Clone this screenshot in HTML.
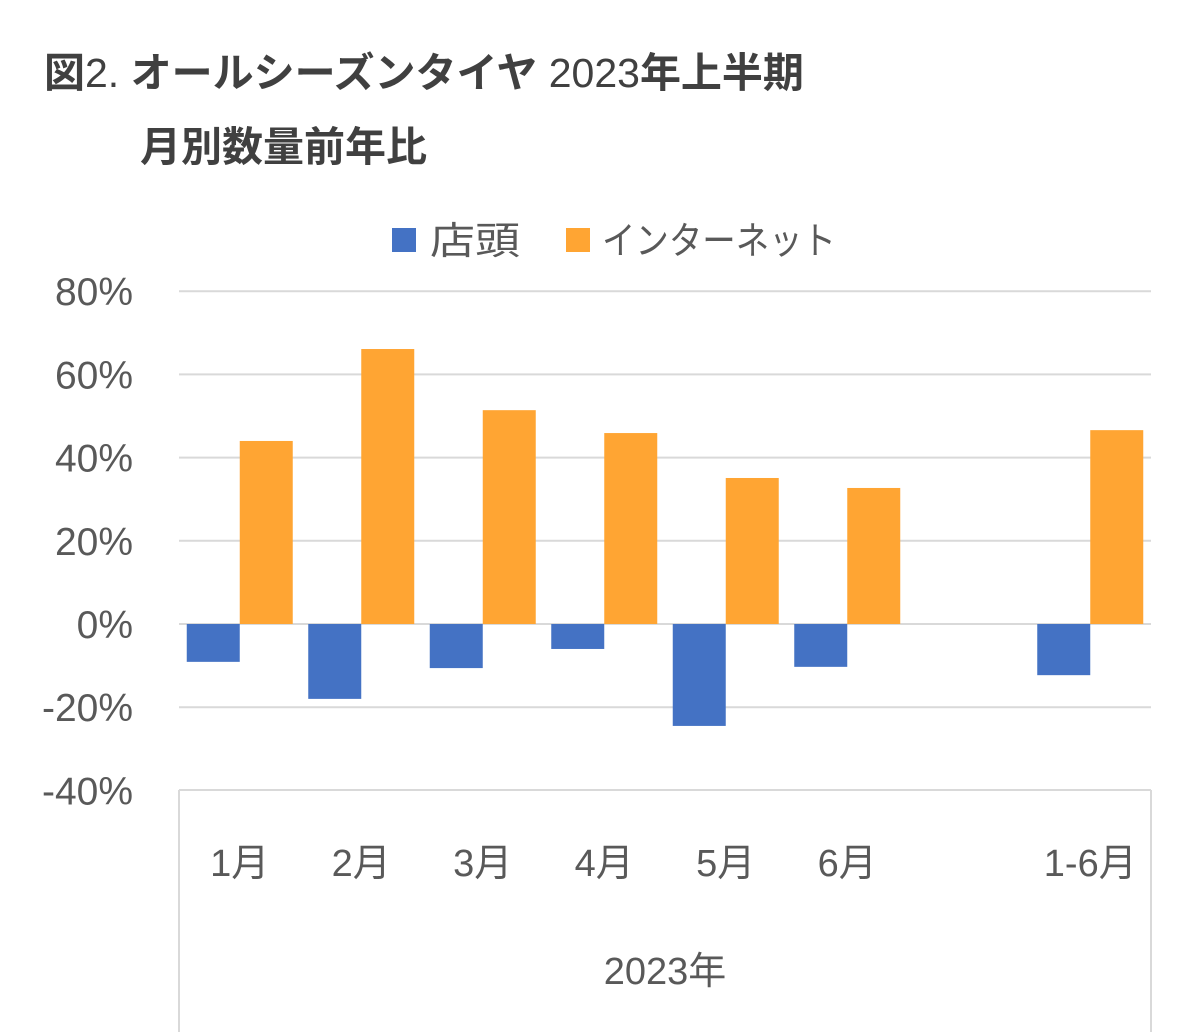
<!DOCTYPE html>
<html><head><meta charset="utf-8"><style>
body{margin:0;background:#fff;width:1201px;height:1032px;overflow:hidden;font-family:"Liberation Sans","Noto Sans CJK JP",sans-serif;}
.t{position:absolute;color:#404040;font-size:41px;font-weight:bold;white-space:nowrap}
.t span{font-weight:normal}
</style></head><body>
<div class="t" style="left:44px;top:39px">図<span>2.</span> オールシーズンタイヤ <span>2023</span>年上半期</div>
<div class="t" style="left:140px;top:113px">月別数量前年比</div>
<svg id="c" width="1201" height="1032" style="position:absolute;left:0;top:0"></svg>
<script>
const categories=["1月","2月","3月","4月","5月","6月","","1-6月"];
const storeValues=[-9.1,-18,-10.6,-6,-24.5,-10.3,null,-12.3];
const netValues=[44,66.1,51.4,45.9,35.1,32.7,null,46.6];
const ticks=[80,60,40,20,0,-20,-40];
const svg=document.getElementById('c');
const NS='http://www.w3.org/2000/svg';
const X0=179,X1=1151,cw=(X1-X0)/categories.length;
const y=v=>624-v*83.2/20;
function mk(t,a){const e=document.createElementNS(NS,t);for(const k in a)e.setAttribute(k,a[k]);svg.appendChild(e);return e;}
ticks.forEach(v=>{
 if(v>-40){const l=mk('line',{x1:X0,x2:X1,y1:y(v),y2:y(v),stroke:'#d9d9d9','stroke-width':2});
 
 }
 const t=mk('text',{x:133,y:y(v)+14,'text-anchor':'end','font-size':39,fill:'#595959','font-family':'Liberation Sans, sans-serif'});
 t.textContent=v+'%';
 
 
});
[[X0,790,X1,790],[X0,790,X0,1032],[X1,790,X1,1032]].forEach(p=>{const l=mk('line',{x1:p[0],y1:p[1],x2:p[2],y2:p[3],stroke:'#d9d9d9','stroke-width':2});
 
 });
const bw=53;
categories.forEach((c,i)=>{
 const cx=X0+cw*i+cw/2;
 if(storeValues[i]!=null){const v=storeValues[i];const r=mk('rect',{x:cx-bw,y:Math.min(y(0),y(v)),width:bw,height:Math.abs(y(v)-y(0)),fill:'#4472c4'});
  
  }
 if(netValues[i]!=null){const v=netValues[i];const r=mk('rect',{x:cx,y:Math.min(y(0),y(v)),width:bw,height:Math.abs(y(v)-y(0)),fill:'#ffa533'});
  
  }
 if(c){const t=mk('text',{x:cx,y:876,'text-anchor':'middle','font-size':38,fill:'#595959','font-family':'Liberation Sans, Noto Sans CJK JP, sans-serif'});
  t.textContent=c;
  
  }
});
const g=mk('text',{x:(X0+X1)/2,y:984,'text-anchor':'middle','font-size':38,fill:'#595959','font-family':'Liberation Sans, Noto Sans CJK JP, sans-serif'});
g.textContent='2023年';


[[392,'#4472c4',430,'店頭',90],[566,'#ffa533',602,'インターネット',234]].forEach(d=>{
 const r=mk('rect',{x:d[0],y:228,width:24,height:24,fill:d[1]});
 
 
 const t=mk('text',{x:d[2],y:254,'font-size':38,fill:'#595959','font-family':'Liberation Sans, Noto Sans CJK JP, sans-serif',textLength:d[4],lengthAdjust:'spacingAndGlyphs'});
 t.textContent=d[3];
 
 
});
</script>
</body></html>
